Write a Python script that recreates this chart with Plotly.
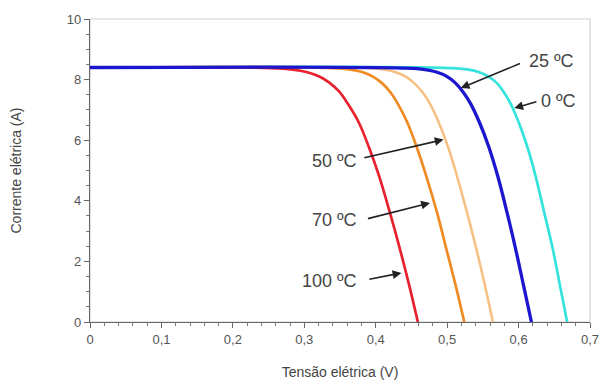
import plotly.graph_objects as go

i_pts  = [8.4, 8.38, 8.33, 8.25, 8.1, 7.9, 7.6, 7.2, 6.6, 5.8, 4.8, 3.6, 2.4, 1.2, 0]
v_0C   = [0, 0.506, 0.530, 0.544, 0.558, 0.569, 0.579, 0.589, 0.600, 0.612, 0.624, 0.636, 0.648, 0.658, 0.668]
v_25C  = [0, 0.443, 0.469, 0.485, 0.500, 0.511, 0.522, 0.533, 0.545, 0.558, 0.571, 0.584, 0.596, 0.607, 0.618]
v_50C  = [0, 0.385, 0.411, 0.427, 0.442, 0.453, 0.465, 0.476, 0.488, 0.501, 0.514, 0.528, 0.541, 0.553, 0.564]
v_70C  = [0, 0.340, 0.365, 0.381, 0.396, 0.408, 0.420, 0.431, 0.444, 0.457, 0.471, 0.486, 0.499, 0.512, 0.524]
v_100C = [0, 0.253, 0.284, 0.303, 0.321, 0.335, 0.349, 0.361, 0.376, 0.390, 0.405, 0.420, 0.434, 0.447, 0.459]

x_ticks = [0, 0.1, 0.2, 0.3, 0.4, 0.5, 0.6, 0.7]
y_ticks = [0, 2, 4, 6, 8, 10]

fig = go.Figure()

series = [
    (v_0C, "#35e3dc", 2.7, "0 ºC"),
    (v_50C, "#f7c083", 2.5, "50 ºC"),
    (v_70C, "#f08a22", 2.7, "70 ºC"),
    (v_100C, "#e8212e", 2.7, "100 ºC"),
    (v_25C, "#1c17cf", 3.3, "25 ºC"),
]
for vx, col, w, name in series:
    fig.add_trace(go.Scatter(x=vx, y=i_pts, mode="lines", name=name,
                             line=dict(color=col, width=w, shape="spline", smoothing=1.0)))

# frame (light gray top/right)
fig.add_shape(type="rect", xref="paper", yref="paper", x0=0, y0=0, x1=1, y1=1,
              line=dict(color="#cfcfcf", width=1.2), layer="below")

font_lbl = dict(family="Liberation Sans, Arial, sans-serif", size=18, color="#444444")

# labels: (text, text_x, text_y, anchor, tail_x, tail_y, head_x, head_y)
labels = [
    ("25 ºC", 0.612, 8.62, "left", 0.604, 8.55, 0.519, 7.72),
    ("0 ºC", 0.629, 7.30, "left", 0.627, 7.28, 0.594, 7.06),
    ("50 ºC", 0.376, 5.32, "right", 0.382, 5.41, 0.495, 6.02),
    ("70 ºC", 0.376, 3.36, "right", 0.387, 3.40, 0.476, 3.93),
    ("100 ºC", 0.376, 1.36, "right", 0.389, 1.40, 0.436, 1.62),
]
for txt, tx, ty, anc, ax_, ay_, hx, hy in labels:
    fig.add_annotation(x=hx, y=hy, ax=ax_, ay=ay_, xref="x", yref="y", axref="x", ayref="y",
                       text="", showarrow=True, arrowhead=2, arrowsize=1.1, arrowwidth=1.6,
                       arrowcolor="#222222", standoff=0, startstandoff=0)
    fig.add_annotation(x=tx, y=ty, xref="x", yref="y", text=txt, showarrow=False,
                       xanchor=anc, yanchor="middle", font=font_lbl)

axis_font = dict(family="Liberation Sans, Arial, sans-serif", size=13, color="#555555")

fig.update_layout(
    width=601, height=383,
    margin=dict(l=90, r=11, t=19, b=61, autoexpand=False),
    paper_bgcolor="white", plot_bgcolor="white",
    showlegend=False,
    separators=",.",
    font=axis_font,
)
fig.update_xaxes(
    range=[0, 0.7], tickvals=x_ticks, showgrid=False, zeroline=False, automargin=False,
    showline=True, linecolor="#666666", linewidth=1.2,
    ticks="outside", ticklen=5, tickcolor="#666666", tickwidth=1.2,
    minor=dict(dtick=0.02, ticks="outside", ticklen=3, tickcolor="#777777", tickwidth=1),
    tickfont=dict(size=13, color="#555555"),
    title=dict(text="Tensão elétrica (V)", font=dict(size=14, color="#444444"), standoff=21),
)
fig.update_yaxes(
    range=[0, 10], tickvals=y_ticks, showgrid=False, zeroline=False, automargin=False,
    showline=True, linecolor="#666666", linewidth=1.2,
    ticks="outside", ticklen=5, tickcolor="#666666", tickwidth=1.2,
    minor=dict(dtick=0.5, ticks="outside", ticklen=3, tickcolor="#777777", tickwidth=1),
    tickfont=dict(size=13, color="#555555"),
    title=dict(text="Corrente elétrica (A)", font=dict(size=14, color="#444444"), standoff=41),
)

fig.write_html("out.html", config={"displayModeBar": False},
               post_script="document.body.style.margin='0';")
